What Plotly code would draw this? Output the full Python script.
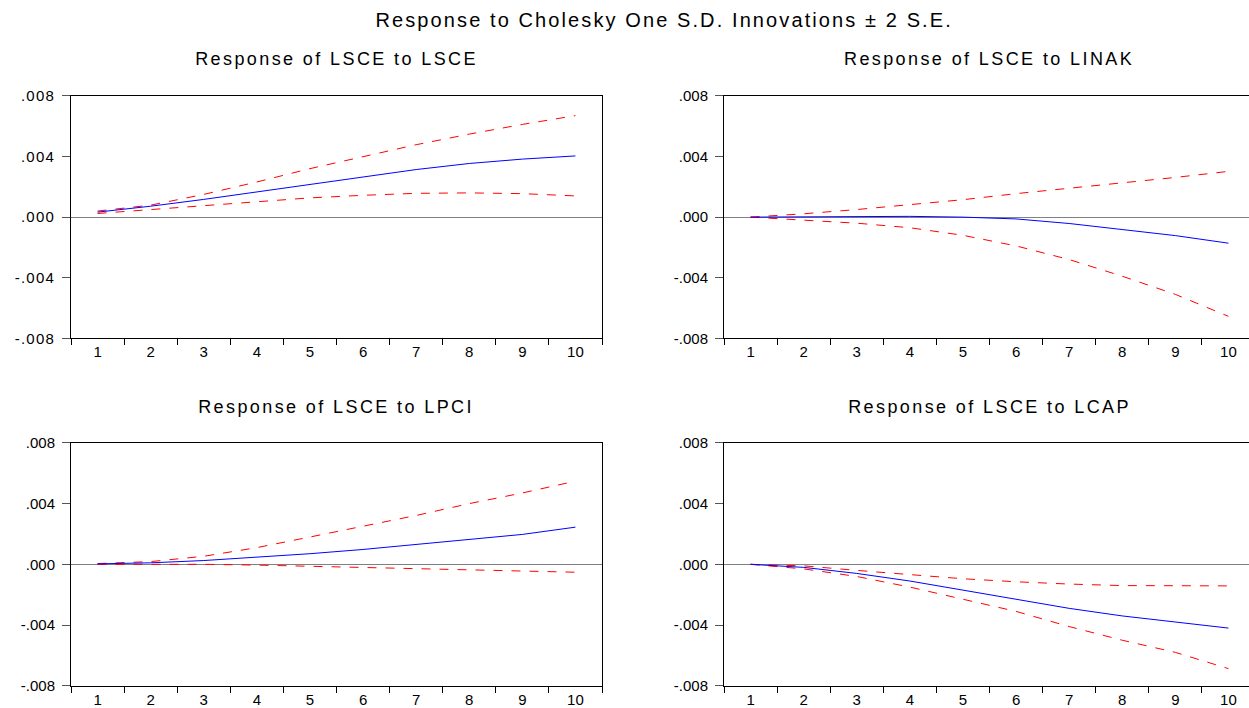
import plotly.graph_objects as go

periods = ["1", "2", "3", "4", "5", "6", "7", "8", "9", "10"]

main_title = "Response to Cholesky One S.D. Innovations ± 2 S.E."
panel_titles = ["Response of LSCE to LSCE", "Response of LSCE to LINAK",
                "Response of LSCE to LPCI", "Response of LSCE to LCAP"]

# Panel 1: LSCE -> LSCE
lsce_resp = [0.00033, 0.00072, 0.00117, 0.00166, 0.00216, 0.00266, 0.00314, 0.00354, 0.00383, 0.00404]
lsce_up = [0.00040, 0.00079, 0.00150, 0.00232, 0.00320, 0.00400, 0.00478, 0.00548, 0.00612, 0.00670]
lsce_lo = [0.00024, 0.00050, 0.00077, 0.00105, 0.00127, 0.00144, 0.00157, 0.00160, 0.00155, 0.00140]

# Panel 2: LSCE -> LINAK
linak_resp = [0.0, 0.00002, 0.00005, 0.00005, 0.0, -0.00012, -0.00042, -0.00080, -0.00122, -0.00172]
linak_up = [0.0, 0.00022, 0.00050, 0.00081, 0.00115, 0.00155, 0.00190, 0.00225, 0.00262, 0.00302]
linak_lo = [0.0, -0.00020, -0.00040, -0.00070, -0.00120, -0.00190, -0.00280, -0.00390, -0.00510, -0.00655]

# Panel 3: LSCE -> LPCI
lpci_resp = [0.00003, 0.00010, 0.00025, 0.00045, 0.00070, 0.00098, 0.00130, 0.00162, 0.00197, 0.00245]
lpci_up = [0.00005, 0.00018, 0.00053, 0.00110, 0.00180, 0.00250, 0.00322, 0.00400, 0.00470, 0.00548]
lpci_lo = [0.0, 0.00002, 0.0, -0.00005, -0.00013, -0.00020, -0.00030, -0.00038, -0.00045, -0.00052]

# Panel 4: LSCE -> LCAP
lcap_resp = [0.0, -0.00020, -0.00060, -0.00110, -0.00170, -0.00230, -0.00290, -0.00340, -0.00380, -0.00420]
lcap_up = [0.0, -0.00010, -0.00040, -0.00070, -0.00095, -0.00115, -0.00130, -0.00140, -0.00142, -0.00142]
lcap_lo = [0.0, -0.00030, -0.00080, -0.00150, -0.00230, -0.00310, -0.00410, -0.00500, -0.00580, -0.00687]

y_tickvals = [-0.008, -0.004, 0.0, 0.004, 0.008]
y_ticktext = ["-.008", "-.004", ".000", ".004", ".008"]

panels = [
    (lsce_resp, lsce_up, lsce_lo),
    (linak_resp, linak_up, linak_lo),
    (lpci_resp, lpci_up, lpci_lo),
    (lcap_resp, lcap_up, lcap_lo),
]

W, H = 1249, 708


def py(v):
    # vertical pixel placement
    return (v - 9.3) / 0.976


CAT_W = 53.1
# pixel boxes (left, right, top, bottom); right-hand panels run past the page edge
boxes = [(71, 602, 97, 341.5), (724, 1249, 97, 341.5), (71, 602, 447, 692), (724, 1249, 447, 692)]

FONT = "Liberation Sans, Arial, sans-serif"
fig = go.Figure()
layout = dict(width=W, height=H, margin=dict(l=0, r=0, t=0, b=0),
              paper_bgcolor="white", plot_bgcolor="white", showlegend=False,
              font=dict(family=FONT, color="black"))
annotations = [dict(text=main_title, x=664 / W, y=1 - py(20) / H, xref="paper", yref="paper",
                    showarrow=False, font=dict(size=20, family=FONT, color="black"),
                    xanchor="center", yanchor="middle")]
sub_y = [60, 60, 411, 411]
sub_x = [336, 989, 336, 989]

for i, ((resp, up, lo), (l, r, t, b)) in enumerate(zip(panels, boxes)):
    n = i + 1
    xa = "x" if n == 1 else f"x{n}"
    ya = "y" if n == 1 else f"y{n}"
    right_side = n in (2, 4)
    for vals, color, dash in [(up, "#ff0000", "dash"), (lo, "#ff0000", "dash"), (resp, "#0000ff", "solid")]:
        fig.add_trace(go.Scatter(x=periods, y=vals, mode="lines", xaxis=xa, yaxis=ya,
                                 line=dict(color=color, width=1, dash=dash), hoverinfo="skip"))
    xmax = -0.5 + (r - l) / CAT_W
    layout[f"xaxis{'' if n == 1 else n}"] = dict(
        domain=[l / W, r / W], anchor=ya, type="category", range=[-0.5, xmax],
        tickson="boundaries", ticks="outside", ticklen=6, tickcolor="black", tickwidth=1,
        showline=True, linecolor="black", linewidth=1, mirror=True, showgrid=False, zeroline=False,
        tickfont=dict(size=15, family=FONT, color="black"), fixedrange=True)
    layout[f"yaxis{'' if n == 1 else n}"] = dict(
        domain=[1 - py(b) / H, 1 - py(t) / H], anchor=xa, range=[-0.008, 0.008],
        tickmode="array", tickvals=y_tickvals, ticktext=y_ticktext,
        ticks="outside", ticklen=8, tickcolor="#555555", tickwidth=1, ticklabelstandoff=4,
        showline=True, linecolor="black", linewidth=1, mirror=(not right_side), showgrid=False,
        zeroline=True, zerolinecolor="#808080", zerolinewidth=1,
        tickfont=dict(size=15, family=FONT, color="black"), fixedrange=True)
    annotations.append(dict(text=panel_titles[i], x=sub_x[i] / W, y=1 - py(sub_y[i]) / H,
                            xref="paper", yref="paper", showarrow=False,
                            font=dict(size=18, family=FONT, color="black"),
                            xanchor="center", yanchor="middle"))

layout["annotations"] = annotations
fig.update_layout(**layout)
post = """
document.body.style.margin='0';
document.body.style.overflow='hidden';
var ts = document.querySelectorAll('.annotation-text');
ts.forEach(function(e, k){ e.style.letterSpacing = (k === 0 ? '2.1px' : '2.4px'); });
document.querySelectorAll('g.ytick text').forEach(function(e){ e.style.letterSpacing = '1.2px'; });
"""
fig.write_html("out.html", config={"displayModeBar": False}, post_script=post)
